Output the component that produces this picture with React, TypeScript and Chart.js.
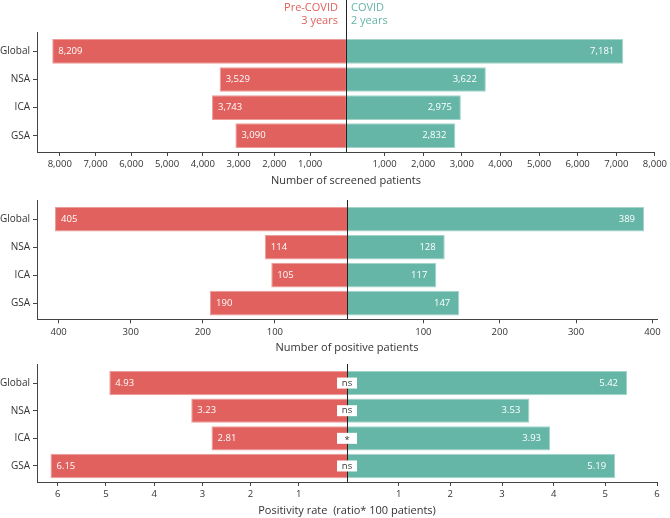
import React, { useEffect, useRef } from 'react';
import { Chart, registerables } from 'chart.js';

Chart.register(...registerables);

const FONT = '"Open Sans", "Noto Sans", sans-serif';
Chart.defaults.font.family = FONT;

// ---- Data ----
const categories = ['Global', 'NSA', 'ICA', 'GSA'];

const screenedPre = [8209, 3529, 3743, 3090];
const screenedCovid = [7181, 3622, 2975, 2832];
const screenedTicks = [1000, 2000, 3000, 4000, 5000, 6000, 7000, 8000];

const positivePre = [405, 114, 105, 190];
const positiveCovid = [389, 128, 117, 147];
const positiveTicks = [100, 200, 300, 400];

const ratePre = [4.93, 3.23, 2.81, 6.15];
const rateCovid = [5.42, 3.53, 3.93, 5.19];
const rateTicks = [1, 2, 3, 4, 5, 6];
const rateSignificance = ['ns', 'ns', '*', 'ns'];

const headerPre = ['Pre-COVID', '3 years'];
const headerCovid = ['COVID', '2 years'];

const titleScreened = 'Number of screened patients';
const titlePositive = 'Number of positive patients';
const titleRate = 'Positivity rate  (ratio* 100 patients)';

// ---- Style ----
const RED = '#E0615E';
const RED_EDGE = '#EC9C99';
const TEAL = '#66B6A7';
const TEAL_EDGE = '#A3D4CA';
const TEXT = '#333333';
const AXIS = '#444444';
const SMALL = 9.5;

type Panel = {
  top: number;
  height: number;
  padTop: number;
  padBottom: number;
  leftMax: number;
  rightMax: number;
  pre: number[];
  covid: number[];
  ticks: number[];
  fmt: (v: number) => string;
  tickFmt: (v: number) => string;
  title: string;
  header: boolean;
  sig: string[] | null;
};

const fmtThousands = (v: number) => v.toLocaleString('en-US');
const fmtInt = (v: number) => String(v);
const fmtRate = (v: number) => v.toFixed(2);

const panels: Panel[] = [
  {
    top: 0, height: 190, padTop: 32, padBottom: 18,
    leftMax: 8635, rightMax: 8000,
    pre: screenedPre, covid: screenedCovid, ticks: screenedTicks,
    fmt: fmtThousands, tickFmt: fmtThousands, title: titleScreened, header: true, sig: null,
  },
  {
    top: 185, height: 170, padTop: 15, padBottom: 15.7,
    leftMax: 430, rightMax: 406,
    pre: positivePre, covid: positiveCovid, ticks: positiveTicks,
    fmt: fmtInt, tickFmt: fmtInt, title: titlePositive, header: false, sig: null,
  },
  {
    top: 355, height: 163, padTop: 7.7, padBottom: 16,
    leftMax: 6.43, rightMax: 6,
    pre: ratePre, covid: rateCovid, ticks: rateTicks,
    fmt: fmtRate, tickFmt: fmtInt, title: titleRate, header: false, sig: rateSignificance,
  },
];

function makeXAxis(p: Panel, reverse: boolean, max: number) {
  return {
    type: 'linear' as const,
    axis: 'x' as const,
    position: 'bottom' as const,
    stack: 'x',
    stackWeight: 1,
    reverse,
    min: 0,
    max,
    offset: false,
    afterBuildTicks: (s: any) => {
      s.ticks = p.ticks.map((v) => ({ value: v }));
    },
    afterFit: (s: any) => {
      s.height = 20;
    },
    grid: { display: true, offset: false, drawOnChartArea: false, drawTicks: true, tickLength: 4, color: AXIS, lineWidth: 1 },
    border: { display: true, color: AXIS, width: 1 },
    ticks: {
      font: { family: FONT, size: SMALL },
      color: TEXT,
      padding: 3,
      maxRotation: 0,
      autoSkip: false,
      callback: (v: any) => p.tickFmt(Number(v)),
    },
  };
}

function PanelChart({ p }: { p: Panel }) {
  const ref = useRef<HTMLCanvasElement | null>(null);

  useEffect(() => {
    if (!ref.current) return;

    const overlay = {
      id: 'overlay',
      afterDatasetsDraw(chart: any) {
        const ctx = chart.ctx as CanvasRenderingContext2D;
        const area = chart.chartArea;
        const cx = chart.scales.xR.getPixelForValue(0);
        ctx.save();

        // value labels
        ctx.font = `${SMALL}px ${FONT}`;
        ctx.fillStyle = '#ffffff';
        ctx.textBaseline = 'middle';
        chart.getDatasetMeta(0).data.forEach((el: any, i: number) => {
          ctx.textAlign = 'left';
          ctx.fillText(p.fmt(p.pre[i]), el.x + 6, el.y);
        });
        chart.getDatasetMeta(1).data.forEach((el: any, i: number) => {
          ctx.textAlign = 'right';
          ctx.fillText(p.fmt(p.covid[i]), el.x - 9, el.y);
        });

        // centre line
        const lx = Math.round(cx) + 0.5;
        ctx.strokeStyle = '#222222';
        ctx.lineWidth = 1;
        ctx.beginPath();
        ctx.moveTo(lx, p.header ? 0 : area.top);
        ctx.lineTo(lx, area.bottom);
        ctx.stroke();

        // significance boxes
        if (p.sig) {
          const yScale = chart.scales.y;
          p.sig.forEach((s, i) => {
            const y = yScale.getPixelForValue(i);
            ctx.fillStyle = '#ffffff';
            ctx.fillRect(cx - 10, y - 5.5, 20, 11);
            ctx.fillStyle = TEXT;
            ctx.textAlign = 'center';
            ctx.textBaseline = 'middle';
            ctx.font = `${SMALL}px ${FONT}`;
            ctx.fillText(s, cx, s === '*' ? y + 1.5 : y);
          });
        }

        // header
        if (p.header) {
          ctx.font = `11px ${FONT}`;
          ctx.textBaseline = 'alphabetic';
          ctx.fillStyle = RED;
          ctx.textAlign = 'right';
          ctx.fillText(headerPre[0], cx - 8, 11);
          ctx.fillText(headerPre[1], cx - 8, 23.5);
          ctx.fillStyle = TEAL;
          ctx.textAlign = 'left';
          ctx.fillText(headerCovid[0], cx + 5, 11);
          ctx.fillText(headerCovid[1], cx + 5, 23.5);
        }

        // axis title
        ctx.font = `11px ${FONT}`;
        ctx.fillStyle = TEXT;
        ctx.textAlign = 'center';
        ctx.textBaseline = 'alphabetic';
        ctx.fillText(p.title, cx, area.bottom + 31.5);

        ctx.restore();
      },
    };

    const chart = new Chart(ref.current, {
      type: 'bar',
      data: {
        datasets: [
          {
            label: 'Pre-COVID',
            data: p.pre.map((v, i) => ({ x: v, y: i })),
            xAxisID: 'xL',
            yAxisID: 'y',
            backgroundColor: RED,
            borderColor: RED_EDGE,
            borderWidth: 1,
          },
          {
            label: 'COVID',
            data: p.covid.map((v, i) => ({ x: v, y: i })),
            xAxisID: 'xR',
            yAxisID: 'y',
            backgroundColor: TEAL,
            borderColor: TEAL_EDGE,
            borderWidth: 1,
          },
        ],
      },
      options: {
        indexAxis: 'y',
        animation: false,
        responsive: false,
        devicePixelRatio: 1,
        layout: { padding: { left: 0, right: 13, top: p.padTop, bottom: p.padBottom } },
        plugins: { legend: { display: false }, tooltip: { enabled: false }, title: { display: false } },
        datasets: { bar: { grouped: false, categoryPercentage: 1, barPercentage: 0.88 } },
        scales: {
          xL: makeXAxis(p, true, p.leftMax),
          xR: makeXAxis(p, false, p.rightMax),
          y: {
            type: 'linear',
            position: 'left',
            reverse: true,
            offset: false,
            min: -0.69,
            max: 3.58,
            afterBuildTicks: (s: any) => {
              s.ticks = categories.map((_, i) => ({ value: i }));
            },
            afterFit: (s: any) => {
              s.width = 37;
            },
            grid: { display: true, offset: false, drawOnChartArea: false, drawTicks: true, tickLength: 4, color: AXIS },
            border: { display: true, color: AXIS, width: 1 },
            ticks: {
              font: { family: FONT, size: 10 },
              color: TEXT,
              padding: 3,
              autoSkip: false,
              callback: (v: any) => categories[Number(v)] ?? '',
            },
          },
        },
      } as any,
      plugins: [overlay],
    });

    return () => chart.destroy();
  }, [p]);

  return (
    <canvas
      ref={ref}
      width={670}
      height={p.height}
      style={{ position: 'absolute', left: 0, top: p.top, width: 670, height: p.height }}
    />
  );
}

export default function App() {
  return (
    <div style={{ position: 'fixed', left: 0, top: 0, width: 670, height: 518, background: '#ffffff', overflow: 'hidden' }}>
      {panels.map((p, i) => (
        <PanelChart key={i} p={p} />
      ))}
    </div>
  );
}
